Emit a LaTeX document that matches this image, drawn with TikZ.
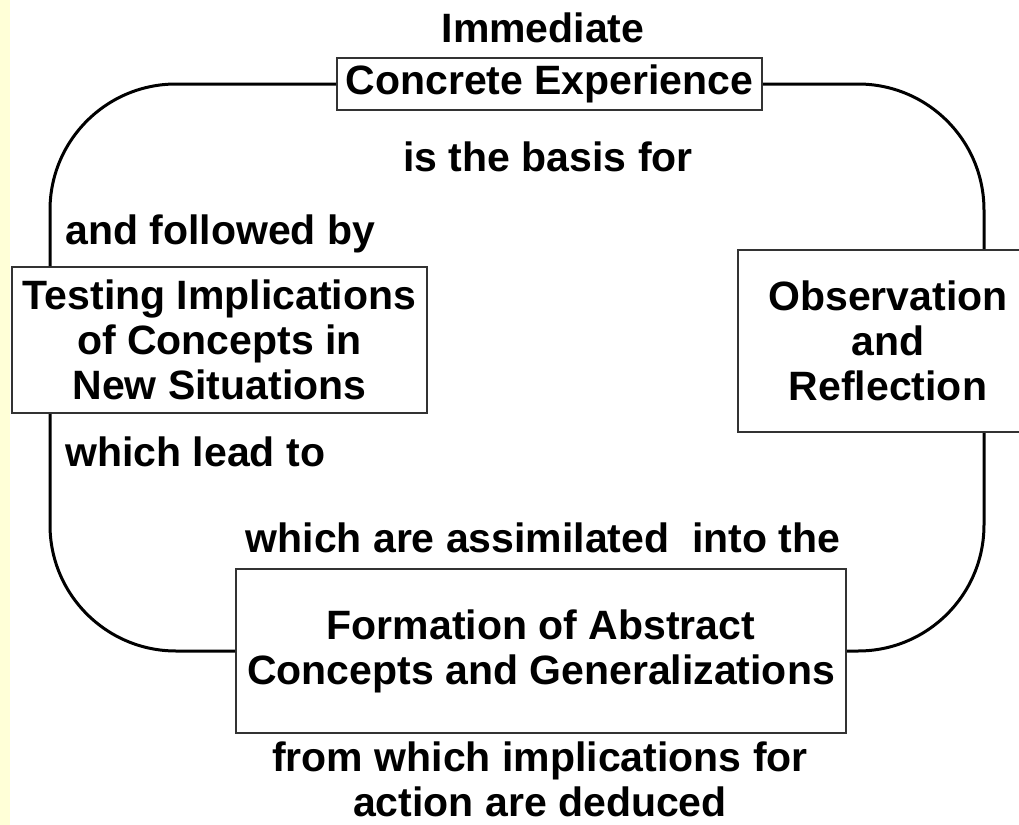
\documentclass[tikz,border=0pt]{standalone}
\usepackage{fontspec}
\setmainfont{Liberation Sans}
\usetikzlibrary{positioning,calc}
\definecolor{stripyellow}{RGB}{255,255,215}

\begin{document}
\begin{tikzpicture}[x=0.5pt,y=-0.5pt,
  every node/.style={font=\bfseries\fontsize{20.5}{22.6}\selectfont, align=center, inner sep=0pt},
  stage/.style={draw=black!80, line width=1pt, fill=white},
  cycleline/.style={line width=1.5pt, rounded corners=63pt}]
\useasboundingbox (0,0) rectangle (1019,825);
\fill[stripyellow] (0,0) rectangle (10,825);

% rails of the cycle
\coordinate (lrail) at (50,0);
\coordinate (rrail) at (984,0);

% the four stages
\node[stage, minimum width=212.5pt, minimum height=26pt] (ce) at (549.5,84) {Concrete Experience};
\node[stage, minimum width=150pt, minimum height=91pt] (ob) at (888,341) {Observation\\and\\Reflection};
\node[stage, minimum width=305pt, minimum height=82pt] (fa) at (541,651) {Formation of Abstract\\Concepts and Generalizations};
\node[stage, minimum width=207.5pt, minimum height=73pt] (te) at (219.5,340) {Testing Implications\\of Concepts in\\New Situations};

% the cycle
\draw[cycleline] (ce.east) -| (ob.north -| rrail);
\draw[cycleline] (ob.south -| rrail) |- (fa.east);
\draw[cycleline] (fa.west) -| (te.south -| lrail);
\draw[cycleline] (te.north -| lrail) |- (ce.west);

% labels
\node (imm) at (543,28) {Immediate};
\node (basis) at (548,157) {is the basis for};
\node[anchor=west] (follow) at (65,234) {and followed by};
\node[anchor=west] (lead) at (65,452) {which lead to};
\node (assim) at (543,538) {which are assimilated\ \ into the};
\node (deduce) at (540,779) {from which implications for\\action are deduced};
\end{tikzpicture}
\end{document}
